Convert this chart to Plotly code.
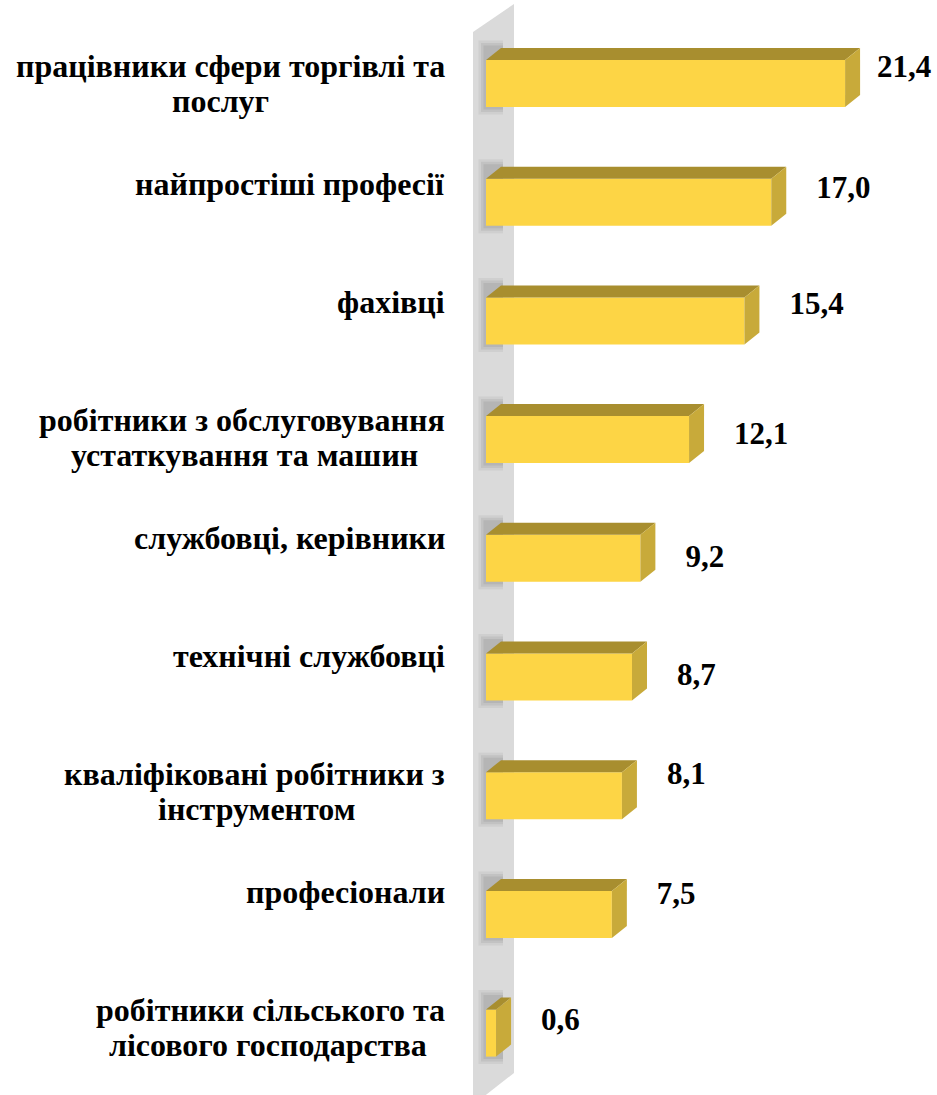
import plotly.graph_objects as go

# ---- data ----
categories = [
    "працівники сфери торгівлі та<br>послуг",
    "найпростіші професії",
    "фахівці",
    "робітники з обслуговування<br>устаткування та машин",
    "службовці, керівники",
    "технічні службовці",
    "кваліфіковані робітники з<br>інструментом",
    "професіонали",
    "робітники сільського та<br>лісового господарства",
]
values = [21.4, 17.0, 15.4, 12.1, 9.2, 8.7, 8.1, 7.5, 0.6]
value_labels = [f"{v:.1f}".replace(".", ",") for v in values]

# ---- style / geometry (px -> data units) ----
W, H = 937, 1095
PX_PER_X = 16.78          # px per value unit
ZERO_PX = 486             # pixel of x = 0
PX_PER_Y = 118.7          # px per category step
FIRST_CENTER_PX = 83.5
BAR_H = 47 / PX_PER_Y     # front-face thickness
DX = 15 / PX_PER_X        # 3-D depth, horizontal
DY = 12 / PX_PER_Y        # 3-D depth, vertical
value_dy_px = [-14, -12, -15, -3, 1, 0, -19, -18, -11]   # value-label nudges
line2_center_px = [220, None, None, 244, None, None, 257, None, 268]
LABEL_RIGHT_PX = 447
LINE_GAP_PX = 35

FRONT = "#FDD545"
TOP = "#A88E2F"
SIDE = "#C8AA3A"
WALL = "#DADADA"
FONT = "Liberation Serif"

x_min = -ZERO_PX / PX_PER_X
x_max = (W - ZERO_PX) / PX_PER_X
y_top = -FIRST_CENTER_PX / PX_PER_Y
y_bot = (H - FIRST_CENTER_PX) / PX_PER_Y

idx = list(range(len(values)))

fig = go.Figure()

# front faces
fig.add_trace(go.Bar(
    y=idx, x=values, orientation="h", width=BAR_H,
    marker=dict(color=FRONT, line=dict(width=0)),
    hoverinfo="skip", showlegend=False,
))

# top and side faces
for i, v in zip(idx, values):
    t = i - BAR_H / 2
    b = i + BAR_H / 2
    fig.add_trace(go.Scatter(
        x=[0, v, v + DX, DX, 0], y=[t, t, t - DY, t - DY, t],
        fill="toself", fillcolor=TOP, mode="lines", line=dict(width=0),
        hoverinfo="skip", showlegend=False,
    ))
    fig.add_trace(go.Scatter(
        x=[v, v + DX, v + DX, v, v], y=[t, t - DY, b - DY, b, t],
        fill="toself", fillcolor=SIDE, mode="lines", line=dict(width=0),
        hoverinfo="skip", showlegend=False,
    ))

# value labels as a text trace
max_left = (W - 60 - ZERO_PX) / PX_PER_X
fig.add_trace(go.Scatter(
    x=[min(v + 45 / PX_PER_X, max_left) for v in values],
    y=[i + dy / PX_PER_Y for i, dy in zip(idx, value_dy_px)],
    mode="text", text=[f"<b>{s}</b>" for s in value_labels],
    textposition="middle right",
    textfont=dict(family=FONT, size=31, color="black"),
    hoverinfo="skip", showlegend=False, cliponaxis=False,
))

# back wall (below bars)
wl = (473 - ZERO_PX) / PX_PER_X
wr = (514 - ZERO_PX) / PX_PER_X
shapes = [dict(
    type="path", xref="x", yref="y", layer="below",
    path=(f"M {wl},{(32 - FIRST_CENTER_PX) / PX_PER_Y} "
          f"L {wr},{(4 - FIRST_CENTER_PX) / PX_PER_Y} "
          f"L {wr},{(1073 - FIRST_CENTER_PX) / PX_PER_Y} "
          f"L {wl},{(1105 - FIRST_CENTER_PX) / PX_PER_Y} Z"),
    fillcolor=WALL, line=dict(width=0),
)]
# soft shadows on the wall
for i in idx:
    t = i - BAR_H / 2
    b = i + BAR_H / 2
    for k, alpha in enumerate([0.08, 0.10, 0.12]):
        g = (3 - k) * 2.5
        shapes.append(dict(
            type="path", xref="x", yref="y", layer="below",
            path=(f"M {-g / PX_PER_X},{t - DY - g / PX_PER_Y} "
                  f"L {DX + 2 / PX_PER_X},{t - DY - g / PX_PER_Y} "
                  f"L {DX + 2 / PX_PER_X},{b + g / PX_PER_Y} "
                  f"L {-g / PX_PER_X},{b + g / PX_PER_Y} Z"),
            fillcolor=f"rgba(90,90,90,{alpha})", line=dict(width=0),
        ))

# category labels: first line right-aligned, second line centred under it
annotations = []
for i, c in enumerate(categories):
    lines = c.split("<br>")
    shift1 = 18 + 0.6 * i
    annotations.append(dict(
        x=LABEL_RIGHT_PX / W, y=i, xref="paper", yref="y",
        text=f"<b>{lines[0]}</b>", showarrow=False,
        xanchor="right", yanchor="middle", yshift=shift1,
        font=dict(family=FONT, size=32, color="black"),
    ))
    if len(lines) > 1:
        annotations.append(dict(
            x=line2_center_px[i] / W, y=i, xref="paper", yref="y",
            text=f"<b>{lines[1]}</b>", showarrow=False,
            xanchor="center", yanchor="middle", yshift=shift1 - LINE_GAP_PX,
            font=dict(family=FONT, size=32, color="black"),
        ))

fig.update_layout(
    width=W, height=H,
    margin=dict(l=0, r=0, t=0, b=0),
    font=dict(family=FONT, color="black"),
    paper_bgcolor="white", plot_bgcolor="white",
    xaxis=dict(range=[x_min, x_max], visible=False, fixedrange=True),
    yaxis=dict(range=[y_bot, y_top], visible=False, fixedrange=True),
    shapes=shapes, annotations=annotations,
    barmode="overlay", showlegend=False,
)

fig.write_html("out.html", config={"displayModeBar": False},
               post_script="document.body.style.margin='0';document.body.style.overflow='hidden';")
